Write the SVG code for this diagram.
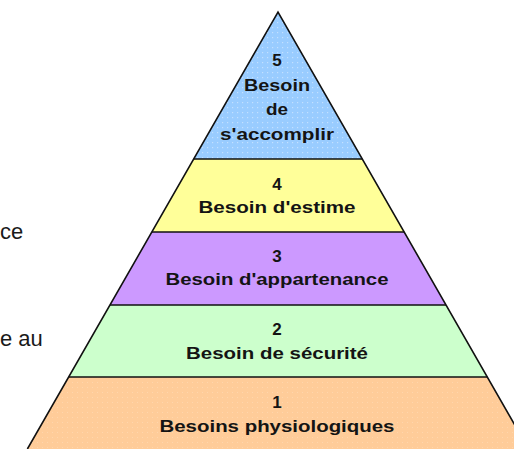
<svg xmlns="http://www.w3.org/2000/svg" width="514" height="449" viewBox="0 0 514 449">
  <style>
    .lbl { font-family: "Liberation Sans", Arial, sans-serif; font-size: 17px; font-weight: bold; fill: #141414; text-anchor: middle; }
    .side { font-family: "Liberation Sans", Arial, sans-serif; font-size: 22px; fill: #1a1a1a; }
    .band { stroke: none; }
    .div { stroke: #111; stroke-width: 1.6; fill: none; }
    .outline { stroke: #111; stroke-width: 1.6; fill: none; stroke-linejoin: miter; }
  </style>
  <defs>
    <pattern id="dotsBlue" width="5" height="5" patternUnits="userSpaceOnUse">
      <rect width="5" height="5" fill="#99ccff"/>
      <rect x="2" y="2" width="1.2" height="1.2" fill="#c4e0ff"/>
    </pattern>
    <pattern id="dotsOrange" width="5" height="5" patternUnits="userSpaceOnUse">
      <rect width="5" height="5" fill="#ffcc99"/>
      <rect x="2" y="2" width="1" height="1" fill="#ffd6ad"/>
    </pattern>
  </defs>
  <rect width="514" height="449" fill="#ffffff"/>

  <g id="side-text">
    <text class="side" x="0" y="239">ce</text>
    <text class="side" x="0" y="346">e au</text>
  </g>

  <g id="level5">
    <polygon class="band" points="278,12 362.3,159 193.7,159" fill="url(#dotsBlue)"/>
    <text class="lbl" x="277" y="66">5</text>
    <text class="lbl" x="277" y="91" textLength="66" lengthAdjust="spacingAndGlyphs">Besoin</text>
    <text class="lbl" x="277" y="115" textLength="22" lengthAdjust="spacingAndGlyphs">de</text>
    <text class="lbl" x="277" y="140" textLength="114" lengthAdjust="spacingAndGlyphs">s'accomplir</text>
  </g>

  <g id="level4">
    <polygon class="band" points="193.7,159 362.3,159 404.1,232 151.9,232" fill="#ffff99"/>
    <text class="lbl" x="277" y="190">4</text>
    <text class="lbl" x="277" y="213" textLength="157" lengthAdjust="spacingAndGlyphs">Besoin d'estime</text>
  </g>

  <g id="level3">
    <polygon class="band" points="151.9,232 404.1,232 446,305 110,305" fill="#cc99ff"/>
    <text class="lbl" x="277" y="262">3</text>
    <text class="lbl" x="277" y="285" textLength="223" lengthAdjust="spacingAndGlyphs">Besoin d'appartenance</text>
  </g>

  <g id="level2">
    <polygon class="band" points="110,305 446,305 487.3,377 68.7,377" fill="#ccffcc"/>
    <text class="lbl" x="277" y="335">2</text>
    <text class="lbl" x="277" y="359" textLength="182" lengthAdjust="spacingAndGlyphs">Besoin de sécurité</text>
  </g>

  <g id="level1">
    <polygon class="band" points="68.7,377 487.3,377 528.6,449 27.4,449" fill="url(#dotsOrange)"/>
    <text class="lbl" x="277" y="408">1</text>
    <text class="lbl" x="277" y="432" textLength="235" lengthAdjust="spacingAndGlyphs">Besoins physiologiques</text>
  </g>

  <g id="connectors">
    <line class="div" x1="193.7" y1="159" x2="362.3" y2="159"/>
    <line class="div" x1="151.9" y1="232" x2="404.1" y2="232"/>
    <line class="div" x1="110" y1="305" x2="446" y2="305"/>
    <line class="div" x1="68.7" y1="377" x2="487.3" y2="377"/>
    <polyline class="outline" points="27.4,449 278,12 528.6,449"/>
  </g>
</svg>
